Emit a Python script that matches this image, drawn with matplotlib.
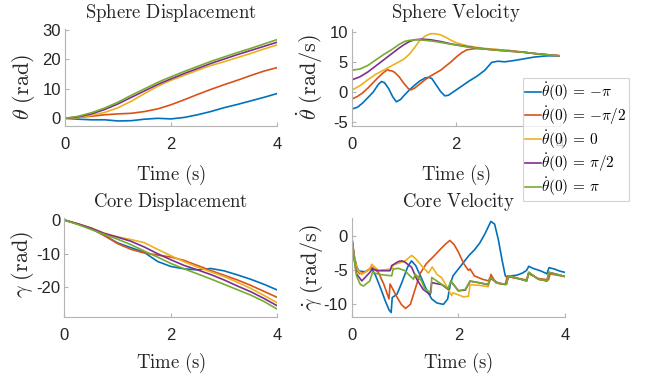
import numpy as np
import matplotlib
matplotlib.use("Agg")
from matplotlib import pyplot as plt

plt.rcParams['mathtext.fontset'] = 'cm'
plt.rcParams['font.family'] = ['Liberation Sans', 'DejaVu Sans']
plt.rcParams['axes.unicode_minus'] = False

colors = ['#0072BD', '#D95319', '#EDB120', '#7E2F8E', '#77AC30']
labels = [r'$\dot{\theta}(0)\,=\,{-\pi}$', r'$\dot{\theta}(0)\,=\,{-\pi/2}$', r'$\dot{\theta}(0)\,=\,0$',
          r'$\dot{\theta}(0)\,=\,\pi/2$', r'$\dot{\theta}(0)\,=\,\pi$']

# ---- sphere displacement (rad), common time grid
t_grid = [0, 0.25, 0.5, 0.75, 1.0, 1.25, 1.5, 1.75, 2.0, 2.25, 2.5, 2.75, 3.0, 3.25, 3.5, 3.75, 4.0]
sd_blue = [0, -0.3, -0.5, -0.5, -0.9, -0.8, -0.3, 0.0, -0.2, 0.3, 1.2, 2.3, 3.6, 4.7, 5.9, 7.1, 8.4]
sd_orange = [0, 0.3, 0.7, 1.2, 1.5, 1.7, 2.3, 3.2, 4.6, 6.3, 8.1, 9.8, 11.4, 12.9, 14.5, 16.0, 17.2]
sd_yellow = [0, 0.3, 1.0, 2.0, 3.6, 5.8, 8.4, 10.9, 12.9, 14.6, 16.3, 17.9, 19.2, 20.6, 22.0, 23.5, 24.9]
sd_purple = [0, 0.5, 1.5, 3.0, 4.9, 7.1, 9.3, 11.5, 13.4, 15.2, 16.9, 18.6, 20.1, 21.6, 23.0, 24.4, 25.8]
sd_green = [0, 0.7, 1.9, 3.5, 5.5, 7.8, 10.0, 12.2, 14.1, 15.9, 17.6, 19.3, 20.8, 22.3, 23.7, 25.2, 26.7]

# ---- sphere velocity (rad/s)
sv_blue_t = [0, 0.1, 0.2, 0.3, 0.4, 0.5, 0.56, 0.62, 0.7, 0.78, 0.85, 0.93, 1.0, 1.1, 1.2, 1.3, 1.4, 1.47,
             1.53, 1.6, 1.7, 1.78, 1.85, 1.95, 2.1, 2.25, 2.4, 2.55, 2.68, 2.8, 2.93, 3.1, 3.3, 3.5, 3.75, 4.0]
sv_blue = [-2.9, -2.6, -1.9, -1.0, -0.1, 1.2, 1.7, 1.5, 0.5, -0.9, -1.7, -1.3, -0.6, 0.3, 1.1, 1.8, 2.3, 2.4,
           2.2, 1.3, 0.0, -0.7, -0.6, 0.0, 0.9, 1.8, 2.6, 3.6, 4.9, 5.1, 5.0, 5.2, 5.5, 5.8, 6.0, 6.0]
sv_orange_t = [0, 0.1, 0.2, 0.3, 0.4, 0.5, 0.6, 0.68, 0.72, 0.76, 0.82, 0.9, 1.0, 1.08, 1.13, 1.2, 1.3, 1.4,
               1.5, 1.6, 1.7, 1.8, 1.9, 2.0, 2.1, 2.2, 2.35, 2.5, 2.7, 3.0, 3.3, 3.6, 4.0]
sv_orange = [-1.2, -0.8, -0.2, 0.6, 1.5, 2.4, 3.2, 3.7, 3.5, 3.5, 3.2, 2.5, 1.3, 0.5, 0.3, 0.6, 1.3, 2.0,
             2.6, 3.1, 3.6, 4.3, 5.0, 5.8, 6.5, 7.0, 7.2, 7.2, 7.1, 6.9, 6.6, 6.3, 6.0]
sv_yellow_t = [0, 0.15, 0.3, 0.45, 0.6, 0.75, 0.9, 1.0, 1.1, 1.2, 1.3, 1.4, 1.5, 1.6, 1.7, 1.8, 1.9, 2.0,
               2.2, 2.4, 2.7, 3.0, 3.3, 3.6, 4.0]
sv_yellow = [0.3, 1.0, 2.0, 2.9, 3.6, 4.3, 5.0, 5.5, 6.3, 7.4, 8.6, 9.3, 9.7, 9.7, 9.5, 9.1, 8.6, 8.2,
             7.7, 7.4, 7.1, 6.9, 6.6, 6.3, 6.0]
sv_purple_t = [0, 0.15, 0.3, 0.45, 0.6, 0.75, 0.9, 1.0, 1.1, 1.2, 1.35, 1.5, 1.7, 1.9, 2.1, 2.4, 2.7, 3.0,
               3.3, 3.6, 4.0]
sv_purple = [2.0, 2.5, 3.3, 4.3, 5.3, 6.3, 7.3, 7.9, 8.4, 8.7, 8.8, 8.7, 8.4, 8.0, 7.7, 7.3, 7.0, 6.8,
             6.6, 6.3, 6.0]
sv_green_t = [0, 0.15, 0.3, 0.45, 0.6, 0.75, 0.9, 1.0, 1.1, 1.25, 1.4, 1.6, 1.8, 2.0, 2.2, 2.4, 2.7, 3.0,
              3.3, 3.6, 4.0]
sv_green = [3.6, 3.8, 4.4, 5.3, 6.2, 7.0, 7.9, 8.4, 8.6, 8.7, 8.6, 8.4, 8.1, 7.8, 7.5, 7.3, 7.0, 6.8,
            6.6, 6.3, 6.0]

# ---- core displacement (rad), common time grid
cd_blue = [0, -1.2, -2.5, -4.6, -6.8, -8.2, -9.6, -12.3, -13.8, -14.5, -14.8, -14.4, -15.1, -16.3, -17.6, -19.1, -20.8]
cd_orange = [0, -1.2, -2.5, -4.6, -7.0, -8.7, -9.8, -10.4, -11.0, -12.0, -13.5, -15.0, -16.4, -17.8, -19.4, -21.2, -23.0]
cd_yellow = [0, -1.1, -2.3, -3.9, -5.0, -5.8, -6.7, -8.7, -10.6, -12.4, -14.0, -15.4, -16.8, -18.5, -20.3, -22.4, -24.6]
cd_purple = [0, -1.1, -2.4, -4.0, -5.1, -6.3, -8.0, -10.0, -11.8, -13.5, -14.8, -16.2, -17.8, -19.6, -21.3, -23.3, -25.5]
cd_green = [0, -1.3, -2.8, -4.3, -5.7, -7.3, -9.2, -11.0, -12.9, -14.5, -16.0, -17.5, -19.1, -20.7, -22.3, -24.2, -26.5]

# ---- core velocity (rad/s)
cv_blue_t = [0, 0.05, 0.1, 0.14, 0.25, 0.375, 0.45, 0.55, 0.63, 0.7, 0.74, 0.76, 0.85, 0.94, 1.05, 1.12,
             1.2, 1.3, 1.4, 1.5, 1.6, 1.72, 1.8, 1.85, 1.9, 2.0, 2.1, 2.2, 2.3, 2.4, 2.5, 2.61, 2.68, 2.75,
             2.82, 2.88, 2.93, 3.0, 3.1, 3.2, 3.28, 3.32, 3.4, 3.55, 3.66, 3.7, 3.8, 3.9, 4.0]
cv_blue = [0, -3.0, -4.6, -5.1, -5.2, -4.7, -5.8, -7.8, -9.5, -10.8, -11.2, -9.0, -8.5, -6.8, -4.5, -3.6,
           -4.3, -6.0, -7.8, -9.2, -9.8, -10.0, -9.2, -7.0, -5.8, -4.8, -3.8, -2.8, -2.0, -1.0, 0.4, 2.2, 1.8,
           -0.5, -3.5, -5.8, -6.1, -5.8, -5.7, -5.4, -5.0, -4.4, -4.7, -5.1, -5.5, -4.6, -4.8, -5.1, -5.3]
cv_orange_t = [0, 0.05, 0.1, 0.15, 0.25, 0.375, 0.5, 0.6, 0.7, 0.72, 0.76, 0.84, 0.93, 1.01, 1.1, 1.2,
               1.28, 1.4, 1.53, 1.65, 1.75, 1.84, 1.92, 2.0, 2.1, 2.19, 2.22, 2.3, 2.45, 2.59, 2.61, 2.7,
               2.88, 2.92, 3.03, 3.28, 3.32, 3.5, 3.69, 3.72, 3.85, 4.0]
cv_orange = [0, -3.2, -5.0, -5.5, -5.3, -4.5, -5.3, -7.0, -9.2, -7.0, -7.6, -8.8, -10.0, -10.6, -10.0, -7.5,
             -5.5, -4.0, -3.0, -2.0, -1.2, -0.6, -1.2, -2.3, -4.0, -5.0, -4.8, -5.8, -6.3, -6.6, -5.6, -6.8,
             -7.1, -5.8, -6.1, -6.4, -5.5, -6.2, -6.4, -5.5, -5.7, -5.9]
cv_yellow_t = [0, 0.05, 0.1, 0.19, 0.34, 0.375, 0.5, 0.75, 0.78, 0.9, 1.0, 1.125, 1.2, 1.31, 1.44, 1.51,
               1.6, 1.69, 1.8, 1.875, 1.9, 2.0, 2.1, 2.19, 2.22, 2.4, 2.56, 2.59, 2.75, 2.9, 2.94, 3.06,
               3.28, 3.32, 3.5, 3.66, 3.7, 3.85, 4.0]
cv_yellow = [0, -3.0, -4.8, -5.6, -4.8, -4.1, -5.0, -4.8, -4.2, -3.9, -3.6, -2.8, -3.3, -4.3, -5.4, -4.5,
             -5.6, -6.1, -7.6, -8.7, -8.3, -8.6, -8.9, -8.8, -7.1, -7.2, -7.4, -6.1, -6.9, -7.05, -5.8, -6.05,
             -6.55, -5.3, -6.3, -6.55, -5.3, -5.6, -5.9]
cv_purple_t = [0, 0.05, 0.09, 0.19, 0.34, 0.39, 0.5, 0.72, 0.75, 0.875, 0.94, 1.0, 1.125, 1.22, 1.34, 1.47,
               1.5, 1.69, 1.81, 1.86, 2.0, 2.13, 2.22, 2.38, 2.56, 2.59, 2.75, 2.9, 2.94, 3.06, 3.28, 3.32,
               3.5, 3.66, 3.7, 3.85, 4.0]
cv_purple = [0, -3.5, -5.5, -6.55, -5.3, -4.8, -5.05, -5.05, -4.3, -3.7, -3.6, -3.8, -4.55, -6.3, -7.8, -8.55,
             -6.8, -7.1, -7.8, -6.6, -8.0, -7.9, -6.6, -6.8, -7.1, -6.1, -6.9, -7.05, -5.8, -6.05, -6.55, -5.3,
             -6.3, -6.55, -5.3, -5.6, -5.9]
cv_green_t = [0, 0.05, 0.09, 0.16, 0.22, 0.34, 0.39, 0.5, 0.625, 0.75, 0.78, 0.875, 1.0, 1.09, 1.16, 1.19,
              1.31, 1.375, 1.49, 1.5, 1.69, 1.81, 1.86, 2.0, 2.13, 2.22, 2.38, 2.56, 2.59, 2.75, 2.9, 2.94,
              3.06, 3.28, 3.32, 3.5, 3.66, 3.7, 3.85, 4.0]
cv_green = [0, -3.5, -5.8, -7.05, -7.3, -6.55, -5.3, -5.55, -5.7, -5.8, -4.8, -4.7, -5.05, -5.8, -6.3, -5.55,
            -6.55, -7.8, -8.3, -6.05, -7.05, -7.7, -6.55, -8.0, -7.8, -6.55, -6.8, -7.05, -6.05, -6.9, -7.05, -5.8,
            -6.05, -6.55, -5.3, -6.3, -6.55, -5.3, -5.6, -5.9]

fig = plt.figure(figsize=(6.49, 3.84), dpi=100)

ax_sd = fig.add_axes([0.1002, 0.6727, 0.3267, 0.2518])
ax_sv = fig.add_axes([0.5428, 0.6727, 0.3205, 0.2518])
ax_cd = fig.add_axes([0.0991, 0.1737, 0.3282, 0.2586])
ax_cv = fig.add_axes([0.5419, 0.1737, 0.3287, 0.2586])

lw = 1.2
for y, c in zip([sd_blue, sd_orange, sd_yellow, sd_purple, sd_green], colors):
    ax_sd.plot(t_grid, y, color=c, lw=lw)
sv = [(sv_blue_t, sv_blue), (sv_orange_t, sv_orange), (sv_yellow_t, sv_yellow),
      (sv_purple_t, sv_purple), (sv_green_t, sv_green)]
lines = []
for (t, y), c, lab in zip(sv, colors, labels):
    ln, = ax_sv.plot(t, y, color=c, lw=lw, label=lab)
    lines.append(ln)
for y, c in zip([cd_blue, cd_orange, cd_yellow, cd_purple, cd_green], colors):
    ax_cd.plot(t_grid, y, color=c, lw=lw)
cv = [(cv_blue_t, cv_blue), (cv_orange_t, cv_orange), (cv_yellow_t, cv_yellow),
      (cv_purple_t, cv_purple), (cv_green_t, cv_green)]
for (t, y), c in zip(cv, colors):
    ax_cv.plot(t, y, color=c, lw=lw)

# ylabel anchor (axes fraction) and xlabel pad picked to sit where the reference puts them
setup = [
    (ax_sd, 'Sphere Displacement', r'$\theta\ (\mathrm{rad})$', (-2.5, 30.3), [0, 10, 20, 30], (-0.132, 0.40), 8),
    (ax_sv, 'Sphere Velocity', r'$\dot{\theta}\ (\mathrm{rad/s})$', (-5.7, 10.5), [-5, 0, 5, 10], (-0.131, 0.5), 8),
    (ax_cd, 'Core Displacement', r'$\gamma\ (\mathrm{rad})$', (-28.9, 0.6), [-20, -10, 0], (-0.133, 0.53), 5.5),
    (ax_cv, 'Core Velocity', r'$\dot{\gamma}\ (\mathrm{rad/s})$', (-11.9, 2.7), [-10, -5, 0], (-0.125, 0.5), 5.5),
]
spine_col = '#b4b4b4'
txt_col = '#262626'
for ax, title, ylab, ylim, yt, lc, xpad in setup:
    ax.set_xlim(0, 4)
    ax.set_ylim(*ylim)
    ax.set_xticks([0, 2, 4])
    ax.set_yticks(yt)
    for s in ['top', 'right']:
        ax.spines[s].set_visible(False)
    for s in ['left', 'bottom']:
        ax.spines[s].set_color(spine_col)
        ax.spines[s].set_linewidth(0.8)
    ax.tick_params(direction='in', length=3, width=0.8, color=spine_col,
                   labelsize=12, labelcolor=txt_col)
    ax.tick_params(axis='x', pad=8)
    ax.tick_params(axis='y', pad=3)
    ax.set_title(r'$\mathrm{' + title.replace(' ', r'\ ') + '}$', fontsize=13.5, pad=8, color=txt_col)
    ax.set_xlabel(r'$\mathrm{Time\ (s)}$', fontsize=13.5, labelpad=xpad, color=txt_col)
    ax.set_ylabel(ylab, fontsize=16, color=txt_col)
    ax.yaxis.set_label_coords(*lc)

leg = fig.legend(handles=lines, loc='upper left', bbox_to_anchor=(0.806, 0.797),
                 fontsize=11, handlelength=1.0, handletextpad=0.05, borderpad=0.15,
                 labelspacing=0.08, borderaxespad=0, fancybox=False, frameon=True)
leg.get_frame().set_edgecolor('#c8c8c8')
leg.get_frame().set_linewidth(0.8)

fig.savefig('out.png', dpi=100)
